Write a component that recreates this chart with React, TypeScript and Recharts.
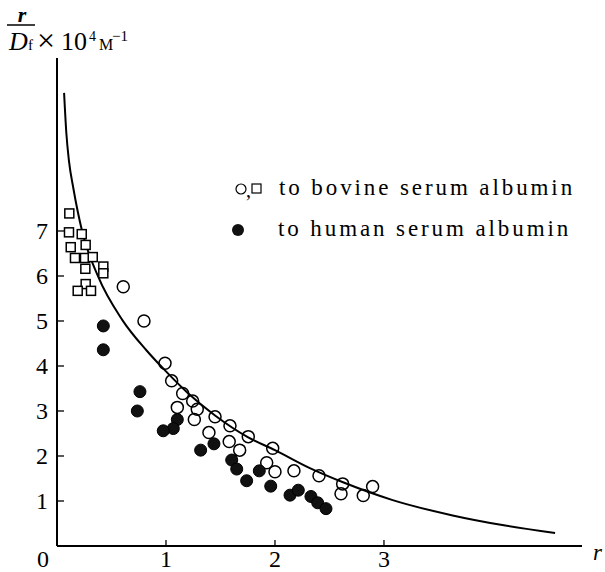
import { ScatterChart, Scatter, XAxis, YAxis } from 'recharts'

// smooth curve drawn through the points
const curveR = [0.065, 0.085, 0.11, 0.15, 0.23, 0.375, 0.6, 0.82, 1.0, 1.2, 1.45, 1.75, 2.0, 2.32, 2.63, 3.08, 3.63, 4.1, 4.57]
const curveY = [10.07, 9.2, 8.55, 7.95, 7.0, 6.0, 5.02, 4.35, 3.88, 3.4, 2.9, 2.42, 2.13, 1.73, 1.41, 1.02, 0.68, 0.46, 0.29]

// bovine serum albumin, squares
const squareR = [0.113, 0.11, 0.227, 0.263, 0.126, 0.165, 0.257, 0.328, 0.425, 0.425, 0.26, 0.263, 0.19, 0.312]
const squareY = [7.39, 6.97, 6.93, 6.69, 6.64, 6.4, 6.4, 6.42, 6.21, 6.06, 6.16, 5.82, 5.67, 5.67]

// bovine serum albumin, open circles
const openR = [0.608, 0.798, 0.991, 1.052, 1.153, 1.245, 1.287, 1.104, 1.26, 1.45, 1.394, 1.587, 1.58, 1.676, 1.755, 1.924, 1.979, 2.0, 2.174, 2.404, 2.621, 2.606, 2.81, 2.896]
const openY = [5.76, 5.0, 4.06, 3.67, 3.39, 3.22, 3.04, 3.08, 2.81, 2.87, 2.52, 2.67, 2.32, 2.13, 2.43, 1.85, 2.17, 1.65, 1.67, 1.56, 1.38, 1.16, 1.12, 1.32]

// human serum albumin, filled circles
const humanR = [0.425, 0.425, 0.761, 0.737, 1.104, 1.067, 0.975, 1.318, 1.44, 1.603, 1.649, 1.74, 1.856, 1.961, 2.138, 2.214, 2.33, 2.392, 2.468]
const humanY = [4.89, 4.36, 3.43, 3.0, 2.81, 2.61, 2.56, 2.13, 2.27, 1.91, 1.71, 1.45, 1.67, 1.33, 1.13, 1.24, 1.1, 0.96, 0.83]

const xTicks = [0, 1, 2, 3]
const yTicks = [1, 2, 3, 4, 5, 6, 7]

const zip = (xs: number[], ys: number[]) => xs.map((r, i) => ({ r, y: ys[i] }))

const curve = zip(curveR, curveY)
const squares = zip(squareR, squareY)
const openCircles = zip(openR, openY)
const human = zip(humanR, humanY)

const FONT = '"Liberation Serif", "DejaVu Serif", serif'
const GAP = 9

const YTick = (props: any) => {
  const { x, y, payload } = props
  const ax = x + GAP
  return (
    <g>
      <line x1={ax} x2={ax + 7} y1={y} y2={y} stroke="#000" strokeWidth={1.3} />
      <text x={x} y={y} dy={8} textAnchor="end" fontFamily={FONT} fontSize={24} fill="#000">
        {payload.value}
      </text>
    </g>
  )
}

const XTick = (props: any) => {
  const { x, y, payload } = props
  const ay = y - GAP
  const shift = payload.value === 0 ? -14 : 0
  return (
    <g>
      {payload.value !== 0 && <line x1={x} x2={x} y1={ay} y2={ay - 6} stroke="#000" strokeWidth={1.3} />}
      <text x={x + shift} y={ay} dy={21} textAnchor="middle" fontFamily={FONT} fontSize={24} fill="#000">
        {payload.value}
      </text>
    </g>
  )
}

const Square = (props: any) => (
  <rect x={props.cx - 4.5} y={props.cy - 4.5} width={9} height={9} fill="#fff" stroke="#000" strokeWidth={1.5} />
)
const Open = (props: any) => <circle cx={props.cx} cy={props.cy} r={6} fill="none" stroke="#000" strokeWidth={1.5} />
const Filled = (props: any) => <circle cx={props.cx} cy={props.cy} r={6} fill="#111" stroke="#000" strokeWidth={1} />

export default function App() {
  return (
    <div style={{ position: 'absolute', left: 0, top: 0, width: 605, height: 572, background: '#fff' }}>
      <ScatterChart width={605} height={572} margin={{ top: 58, right: 23, bottom: 25, left: 56 }}>
        <XAxis
          type="number"
          dataKey="r"
          domain={[0, 4.817]}
          ticks={xTicks}
          height={1}
          tickSize={0}
          tickMargin={GAP}
          tickLine={false}
          tick={<XTick />}
          axisLine={{ stroke: '#000', strokeWidth: 2 }}
          allowDataOverflow
        />
        <YAxis
          type="number"
          dataKey="y"
          domain={[0, 10.844]}
          ticks={yTicks}
          width={1}
          tickSize={0}
          tickMargin={GAP}
          tickLine={false}
          tick={<YTick />}
          axisLine={{ stroke: '#000', strokeWidth: 2 }}
          allowDataOverflow
        />
        <Scatter
          data={curve}
          line={{ stroke: '#000', strokeWidth: 2 }}
          lineJointType="monotoneX"
          shape={() => <g />}
          isAnimationActive={false}
        />
        <Scatter data={squares} shape={<Square />} isAnimationActive={false} />
        <Scatter data={openCircles} shape={<Open />} isAnimationActive={false} />
        <Scatter data={human} shape={<Filled />} isAnimationActive={false} />
      </ScatterChart>

      <svg width={605} height={572} style={{ position: 'absolute', left: 0, top: 0, pointerEvents: 'none' }}>
        <g fontFamily={FONT} fill="#000">
          <text x={22} y={22} textAnchor="middle" fontSize={22} fontStyle="italic" fontWeight="bold">r</text>
          <line x1={7} x2={35} y1={25} y2={25} stroke="#000" strokeWidth={1.5} />
          <text x={9} y={50} fontSize={26} fontStyle="italic">D</text>
          <text x={28} y={50} fontSize={15}>f</text>
          <text x={37} y={51} fontSize={32}>×</text>
          <text x={61} y={50} fontSize={26}>10</text>
          <text x={89} y={41} fontSize={14}>4</text>
          <text x={99} y={50} fontSize={16}>M</text>
          <text x={112} y={41} fontSize={15}>−1</text>
          <text x={593} y={560} fontSize={23} fontStyle="italic">r</text>

          <circle cx={241} cy={189} r={5} fill="none" stroke="#000" strokeWidth={1.2} />
          <text x={246} y={197} fontSize={20}>,</text>
          <rect x={252} y={184} width={9} height={9} fill="none" stroke="#000" strokeWidth={1.2} />
          <text x={279} y={195} fontSize={23} letterSpacing={2.9}>to bovine serum albumin</text>
          <circle cx={238} cy={230} r={6} fill="#111" />
          <text x={278} y={236} fontSize={23} letterSpacing={2.9}>to human serum albumin</text>
        </g>
      </svg>
    </div>
  )
}
